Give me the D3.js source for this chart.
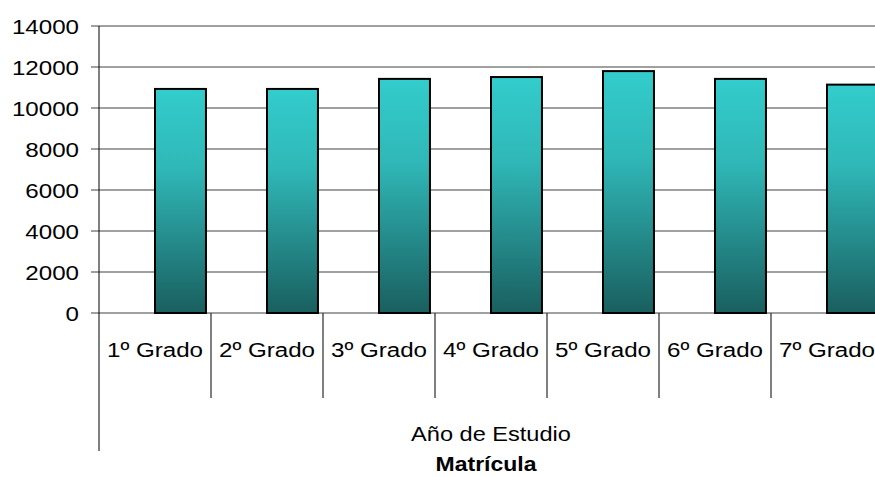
<!DOCTYPE html>
<html>
<head>
<meta charset="utf-8">
<script src="https://cdn.jsdelivr.net/npm/d3@7"></script>
<style>
    body { margin: 0; background: #fff; }
    svg { display: block; font-family: "Liberation Sans", Arial, sans-serif; }
</style>
</head>
<body>
<svg id="chart" width="875" height="477"></svg>
<script>
// data
const grados = ["1º Grado", "2º Grado", "3º Grado", "4º Grado", "5º Grado", "6º Grado", "7º Grado"];
const matricula = [10930, 10930, 11420, 11510, 11800, 11420, 11140];
const yTicks = [0, 2000, 4000, 6000, 8000, 10000, 12000, 14000];
const xTitle = "Año de Estudio";
const chartTitle = "Matrícula";

const svg = d3.select("#chart");
const stretch = 1.15; // text in the reference looks widened

const axisX = 99;
const yScale = d3.scaleLinear()
    .domain([0, 14000])
    .range([313, 26]);

const xScale = d3.scaleBand()
    .domain(grados)
    .range([axisX, axisX + 112 * grados.length])
    .padding(0);

const step = xScale.step();

// gradient for the bars
const defs = svg.append("defs");
const grad = defs.append("linearGradient")
    .attr("id", "barGrad")
    .attr("x1", 0).attr("y1", 0)
    .attr("x2", 0).attr("y2", 1);
grad.append("stop").attr("offset", "0%").attr("stop-color", "#33cccc");
grad.append("stop").attr("offset", "35%").attr("stop-color", "#30b8b8");
grad.append("stop").attr("offset", "100%").attr("stop-color", "#1a5f5f");

// gridlines + ticks
svg.append("g")
    .selectAll("line")
    .data(yTicks)
    .enter()
    .append("line")
    .attr("x1", axisX - 8)
    .attr("x2", 875)
    .attr("y1", d => yScale(d))
    .attr("y2", d => yScale(d))
    .attr("stroke", "#808080")
    .attr("stroke-width", 1.5);

// y tick labels
svg.append("g")
    .selectAll("g")
    .data(yTicks)
    .enter()
    .append("g")
    .attr("transform", d => `translate(79,${yScale(d) + 7.5}) scale(${stretch},1)`)
    .append("text")
    .attr("text-anchor", "end")
    .attr("font-size", 21)
    .attr("fill", "#000")
    .text(d => d);

// bars
svg.append("g")
    .selectAll("rect")
    .data(matricula)
    .enter()
    .append("rect")
    .attr("x", (d, i) => xScale(grados[i]) + step * 0.5)
    .attr("y", d => yScale(d))
    .attr("width", step * 0.455)
    .attr("height", d => yScale(0) - yScale(d))
    .attr("fill", "url(#barGrad)")
    .attr("stroke", "#000")
    .attr("stroke-width", 2);

// y axis line
svg.append("line")
    .attr("x1", axisX).attr("x2", axisX)
    .attr("y1", yScale(14000)).attr("y2", 451)
    .attr("stroke", "#000")
    .attr("stroke-width", 1);

// category separators
svg.append("g")
    .selectAll("line")
    .data(grados.slice(1))
    .enter()
    .append("line")
    .attr("x1", d => xScale(d))
    .attr("x2", d => xScale(d))
    .attr("y1", yScale(0))
    .attr("y2", 398)
    .attr("stroke", "#000")
    .attr("stroke-width", 1);

// category labels
svg.append("g")
    .selectAll("g")
    .data(grados)
    .enter()
    .append("g")
    .attr("transform", d => `translate(${xScale(d) + step / 2},357) scale(${stretch},1)`)
    .append("text")
    .attr("text-anchor", "middle")
    .attr("font-size", 21)
    .attr("fill", "#000")
    .text(d => d);

// axis title
svg.append("g")
    .attr("transform", `translate(491,441) scale(${stretch},1)`)
    .append("text")
    .attr("text-anchor", "middle")
    .attr("font-size", 20.5)
    .attr("fill", "#000")
    .text(xTitle);

svg.append("g")
    .attr("transform", `translate(486,471) scale(${stretch},1)`)
    .append("text")
    .attr("text-anchor", "middle")
    .attr("font-size", 20)
    .attr("font-weight", "bold")
    .attr("fill", "#000")
    .text(chartTitle);
</script>
</body>
</html>
